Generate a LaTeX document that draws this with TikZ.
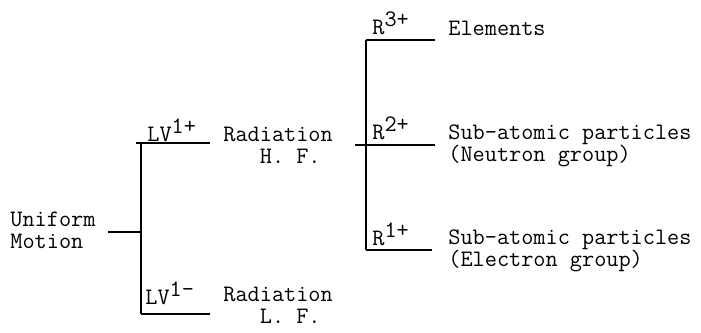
\documentclass[tikz,border=0pt]{standalone}
\tikzset{
  lbl/.style={anchor=base west,inner sep=0pt,align=left,
    font=\ttfamily\fontsize{11.8}{11}\selectfont},
  bar/.style={line width=1.3pt}
}
\newcommand{\charge}[1]{\raisebox{4pt}{#1}}
\begin{document}
\begin{tikzpicture}[x=0.5pt,y=-0.5pt]
        \useasboundingbox (0,0) rectangle (701,332);
        %% Labels (anchored at the last line)
        \node[lbl] (UM) at (10,248) {Uniform\\Motion};
        \node[lbl] (LVp) at (147,141) {LV\charge{1+}};
        \node[lbl] (LVm) at (145,304) {LV\charge{1-}};
        \node[lbl] (HF) at (223,163) {Radiation\\\phantom{Rad}H. F.};
        \node[lbl] (LF) at (223,323) {Radiation\\\phantom{Rad}L. F.};
        \node[lbl] (R3) at (372,34) {R\charge{3+}};
        \node[lbl] (R2) at (372,139) {R\charge{2+}};
        \node[lbl] (R1) at (372,245) {R\charge{1+}};
        \node[lbl] (El) at (448,35) {Elements};
        \node[lbl] (Ne) at (448,161) {Sub-atomic particles\\(Neutron group)};
        \node[lbl] (Ec) at (448,266) {Sub-atomic particles\\(Electron group)};
        %% First fork
        \coordinate (A0) at (108,232);
        \coordinate (A) at (141,232);
        \coordinate (Ap) at (141,143);
        \coordinate (Am) at (141,314);
        \draw[bar] (A0) -- (A);
        \draw[bar] (Ap) -- (Am);
        \draw[bar] (136,143) -- (210,143);
        \draw[bar] (Am) -- (210,314);
        %% Second fork
        \coordinate (B0) at (355,145);
        \coordinate (B) at (366,145);
        \coordinate (B3) at (366,40);
        \coordinate (B1) at (366,250);
        \draw[bar] (B0) -- (B) -- (435,145);
        \draw[bar] (B3) -- (B1);
        \draw[bar] (B3) -- (435,40);
        \draw[bar] (B1) -- (432,250);
\end{tikzpicture}
\end{document}
